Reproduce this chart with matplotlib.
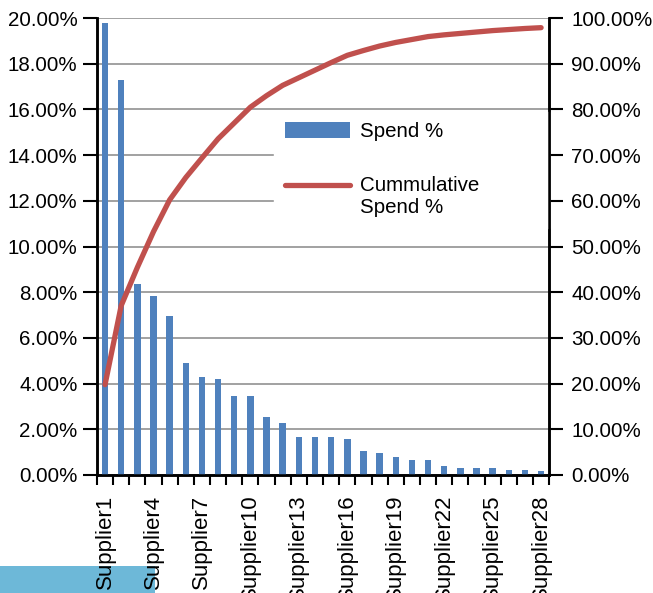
import numpy as np
import matplotlib.pyplot as plt
from matplotlib.patches import Rectangle
from matplotlib.legend_handler import HandlerLine2D
from matplotlib.ticker import FuncFormatter, MultipleLocator

suppliers = ['Supplier%d' % i for i in range(1, 29)]
spend = [19.77, 17.29, 8.36, 7.83, 6.96, 4.89, 4.27, 4.20, 3.46, 3.46,
         2.52, 2.26, 1.66, 1.66, 1.66, 1.59, 1.05, 0.98, 0.79, 0.64,
         0.64, 0.38, 0.31, 0.31, 0.31, 0.23, 0.23, 0.18]
cumulative = [19.77, 37.06, 45.42, 53.25, 60.21, 65.10, 69.37, 73.57, 77.03, 80.49,
              83.01, 85.27, 86.93, 88.59, 90.25, 91.84, 92.89, 93.87, 94.66, 95.30,
              95.94, 96.32, 96.63, 96.94, 97.25, 97.48, 97.71, 97.89]

plt.rcParams['font.family'] = ['Liberation Sans', 'DejaVu Sans']
plt.rcParams['font.size'] = 14.8


class TopLine(HandlerLine2D):
    # put the legend line next to the first line of a two-line label
    def create_artists(self, legend, orig_handle, xdescent, ydescent, width,
                       height, fontsize, trans):
        arts = super().create_artists(legend, orig_handle, xdescent, ydescent,
                                      width, height, fontsize, trans)
        for a in arts:
            a.set_ydata(np.asarray(a.get_ydata()) + 0.6 * fontsize)
        return arts


fig = plt.figure(figsize=(6.53, 5.93), dpi=100)
ax = fig.add_axes([0.1485, 0.199, 0.6925, 0.7706])
ax2 = ax.twinx()

x = np.arange(len(suppliers))
bars = ax.bar(x, spend, width=0.4, color='#4F81BD', label='Spend %', zorder=3)
line, = ax2.plot(x, cumulative, color='#C0504D', lw=3.8, solid_capstyle='round',
                 solid_joinstyle='round', label='Cummulative\nSpend %', zorder=2)

ax.set_xlim(-0.5, len(suppliers) - 0.5)
ax.set_ylim(0, 20)
ax2.set_ylim(0, 100)
ax.yaxis.set_major_locator(MultipleLocator(2))
ax2.yaxis.set_major_locator(MultipleLocator(10))
ax.yaxis.set_major_formatter(FuncFormatter(lambda v, p: '%.2f%%' % v))
ax2.yaxis.set_major_formatter(FuncFormatter(lambda v, p: '%.2f%%' % v))
ax.grid(axis='y', color='#9a9a9a', lw=1.3, zorder=0)
ax.set_axisbelow(True)

# category labels every third supplier, ticks on the boundaries
ax.set_xticks(x[::3])
ax.set_xticklabels(suppliers[::3], rotation=90, va='top', fontsize=16)
ax.set_xticks(np.arange(-0.5, len(suppliers)), minor=True)
ax.tick_params(axis='x', which='major', length=0, pad=14)
ax.tick_params(axis='x', which='minor', length=7, width=1.5, direction='out')
ax.tick_params(axis='y', length=10, width=1.5, pad=4, direction='out')
ax2.tick_params(axis='y', length=10, width=1.5, pad=6, direction='out')

for a in (ax, ax2):
    a.spines['top'].set_visible(False)
    for s in ('left', 'right', 'bottom'):
        a.spines[s].set_linewidth(1.8)
        a.spines[s].set_color('black')

ax.set_zorder(1)
ax2.set_zorder(2)
ax.patch.set_visible(False)
ax2.patch.set_visible(False)

leg = ax2.legend([bars, line], ['Spend %', 'Cummulative\nSpend %'],
                 loc='upper left', bbox_to_anchor=(0.392, 0.536, 0.608, 0.258),
                 mode='expand', frameon=True, fancybox=False, edgecolor='white',
                 framealpha=1, handlelength=3.2, handleheight=0.8, handletextpad=0.45,
                 labelspacing=1.7, borderpad=0.5, borderaxespad=0, fontsize=14.8,
                 handler_map={line: TopLine()})
leg.set_zorder(2.4)

fig.patches.append(Rectangle((0, 0), 155 / 653, 27 / 593, transform=fig.transFigure,
                             facecolor='#6DB8D8', edgecolor='none', zorder=0))

fig.savefig('out.png', dpi=100)
